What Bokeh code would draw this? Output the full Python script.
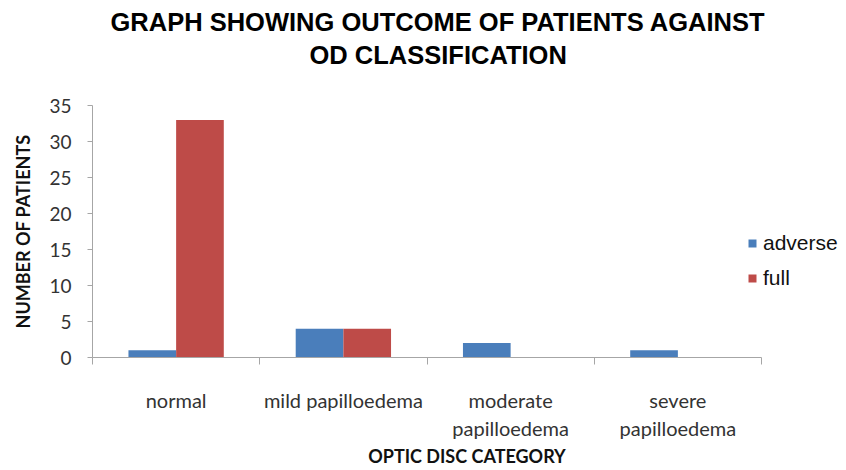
from bokeh.plotting import figure
from bokeh.models import (ColumnDataSource, Range1d, FixedTicker, Legend, LegendItem, Title)
from bokeh.transform import dodge
from bokeh.embed import file_html
from bokeh.resources import INLINE

categories = ["normal", "mild papilloedema", "moderate\npapilloedema", "severe\npapilloedema"]
adverse = [1, 4, 2, 1]
full = [33, 4, 0, 0]
y_ticks = [0, 5, 10, 15, 20, 25, 30, 35]
title_lines = ["GRAPH SHOWING OUTCOME OF PATIENTS AGAINST", "OD CLASSIFICATION"]

n = len(categories)
idx = [i + 0.5 for i in range(n)]
src = ColumnDataSource(dict(x=idx, adverse=adverse, full=full))

# frame spans 92..841 px; categories occupy 92..761 px
x_end = n * (841 - 92) / (761 - 92)

p = figure(width=846, height=470, output_backend="svg", toolbar_location=None,
           x_range=Range1d(0, x_end), y_range=Range1d(0, 35),
           min_border_left=92, min_border_right=5, min_border_top=105, min_border_bottom=104)
p.outline_line_color = None
p.xgrid.grid_line_color = None
p.ygrid.grid_line_color = None

BLUE = "#4A7EBB"
RED = "#BE4B48"
bw = 0.285
r1 = p.vbar(x=dodge("x", -bw / 2, range=p.x_range), width=bw, top="adverse", source=src,
            fill_color=BLUE, line_color=None)
r2 = p.vbar(x=dodge("x", bw / 2, range=p.x_range), width=bw, top="full", source=src,
            fill_color=RED, line_color=None)

# title (two centred lines)
p.title.visible = False
t2 = Title(text=title_lines[1], align="left", text_font="Liberation Sans",
           text_font_size="25.5px", text_font_style="bold", text_color="#000000",
           offset=217, standoff=74)
t1 = Title(text=title_lines[0], align="left", text_font="Liberation Sans",
           text_font_size="25.5px", text_font_style="bold", text_color="#000000",
           offset=18, standoff=-68)
p.add_layout(t2, "above")
p.add_layout(t1, "above")

AX = "#A6A6A6"
TXT = "#333333"

# x axis
xa = p.xaxis[0]
xa.bounds = (0, n)
xa.ticker = FixedTicker(ticks=idx, minor_ticks=list(range(n + 1)))
xa.major_label_overrides = {t: c for t, c in zip(idx, categories)}
xa.major_tick_line_color = None
xa.minor_tick_line_color = AX
xa.minor_tick_out = 7
xa.minor_tick_in = 0
xa.axis_line_color = AX
xa.major_label_text_font = "Lato"
xa.major_label_text_font_size = "20px"
xa.major_label_text_color = TXT
xa.major_label_standoff = 23
xa.axis_label = "OPTIC DISC CATEGORY"
xa.axis_label_text_font = "Lato"
xa.axis_label_text_font_size = "18px"
xa.axis_label_text_font_style = "bold"
xa.axis_label_text_color = "#111111"
xa.axis_label_standoff = 2

# y axis
ya = p.yaxis[0]
ya.ticker = FixedTicker(ticks=y_ticks)
ya.minor_tick_line_color = None
ya.major_tick_line_color = AX
ya.major_tick_out = 5
ya.major_tick_in = 0
ya.axis_line_color = AX
ya.major_label_text_font = "Lato"
ya.major_label_text_font_size = "19px"
ya.major_label_text_color = TXT
ya.major_label_standoff = 16
ya.axis_label = "NUMBER OF PATIENTS"
ya.axis_label_text_font = "Lato"
ya.axis_label_text_font_size = "18px"
ya.axis_label_text_font_style = "bold"
ya.axis_label_text_color = "#111111"
ya.axis_label_standoff = 12

legend = Legend(items=[LegendItem(label="adverse", renderers=[r1]),
                       LegendItem(label="full", renderers=[r2])],
                location=(655, 67), orientation="vertical",
                glyph_width=10, glyph_height=10, label_standoff=6, spacing=11,
                padding=0, margin=0, border_line_color=None, background_fill_alpha=0,
                label_text_font="Liberation Sans", label_text_font_size="21px",
                label_text_color="#111111")
p.add_layout(legend, "center")

open("out.html", "w").write(file_html(p, INLINE))
